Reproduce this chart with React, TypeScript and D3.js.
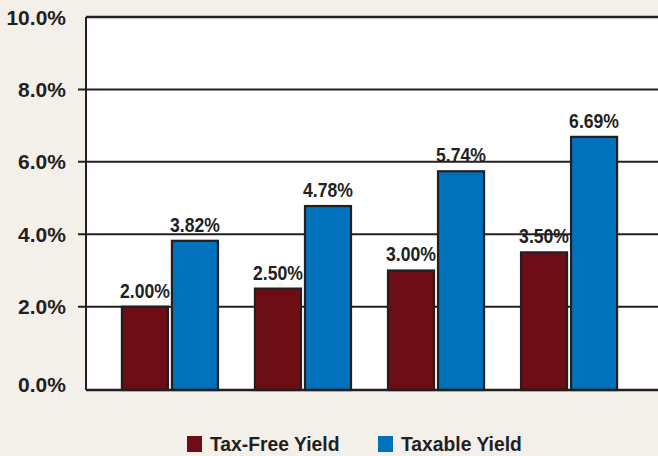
import * as d3 from "d3";

const categories = ["A", "B", "C", "D"];
const taxFree = [2.0, 2.5, 3.0, 3.5];
const taxable = [3.82, 4.78, 5.74, 6.69];
const seriesNames = ["Tax-Free Yield", "Taxable Yield"];
const yTicks = [0, 2, 4, 6, 8, 10];

const W = 658;
const H = 456;
const left = 86;
const right = 658;
const top = 17;
const bottom = 390;

const ink = "#231f20";
const red = "#6d0d16";
const blue = "#0072bc";
const font = "'Liberation Sans', Arial, Helvetica, sans-serif";
// the original type is a slightly condensed bold sans
const squeeze = 0.88;

export default function App() {
  const x = d3.scaleBand<string>()
    .domain(categories)
    .range([left, 653])
    .paddingInner(0.278)
    .paddingOuter(0.27);

  const sub = d3.scaleBand<string>()
    .domain(["taxFree", "taxable"])
    .range([0, x.bandwidth()])
    .paddingInner(0.08);

  // the drawn baseline sits a bit under 0%
  const y = d3.scaleLinear().domain([-0.3, 10]).range([bottom, top]);

  const bars = categories.flatMap((c, i) => [
    { c, key: "taxFree", v: taxFree[i], fill: red },
    { c, key: "taxable", v: taxable[i], fill: blue },
  ]);

  return (
    <svg width={W} height={H} style={{ position: "absolute", left: 0, top: 0 }}>
      <rect width={W} height={H} fill="#f3efe9" />
      <rect x={left} y={top} width={right - left} height={bottom - top} fill="#fff" />

      {yTicks.filter((t) => t > 0 && t < 10).map((t) => (
        <line key={t} x1={left - 8} x2={right} y1={y(t)} y2={y(t)} stroke={ink} strokeWidth={2} />
      ))}

      {yTicks.map((t) => (
        <text
          key={t}
          x={66}
          y={t === 0 ? (y(0) + bottom) / 2 : y(t)}
          textAnchor="end"
          dominantBaseline="central"
          fontFamily={font}
          fontWeight="bold"
          fontSize={21}
          fill={ink}
        >
          {t.toFixed(1)}%
        </text>
      ))}

      {bars.map((b) => {
        const bx = (x(b.c) ?? 0) + (sub(b.key) ?? 0);
        return (
          <g key={b.c + b.key}>
            <rect
              x={bx}
              y={y(b.v)}
              width={sub.bandwidth()}
              height={bottom - y(b.v)}
              fill={b.fill}
              stroke={ink}
              strokeWidth={2.2}
            />
            <text
              transform={`translate(${bx + sub.bandwidth() / 2},${y(b.v) - 9}) scale(${squeeze},1)`}
              textAnchor="middle"
              fontFamily={font}
              fontWeight="bold"
              fontSize={20}
              fill={ink}
            >
              {b.v.toFixed(2)}%
            </text>
          </g>
        );
      })}

      <line x1={left} x2={right} y1={top} y2={top} stroke={ink} strokeWidth={2.5} />
      <line x1={left} x2={left} y1={top} y2={bottom} stroke={ink} strokeWidth={2} />
      <line x1={left} x2={right} y1={bottom} y2={bottom} stroke={ink} strokeWidth={2.5} />

      {seriesNames.map((name, i) => {
        const lx = [187, 378][i];
        return (
          <g key={name}>
            <rect x={lx} y={436} width={15} height={16} fill={i === 0 ? red : blue} />
            <text
              transform={`translate(${lx + 23},${451}) scale(0.92,1)`}
              fontFamily={font}
              fontWeight="bold"
              fontSize={21}
              fill={ink}
            >
              {name}
            </text>
          </g>
        );
      })}
    </svg>
  );
}
